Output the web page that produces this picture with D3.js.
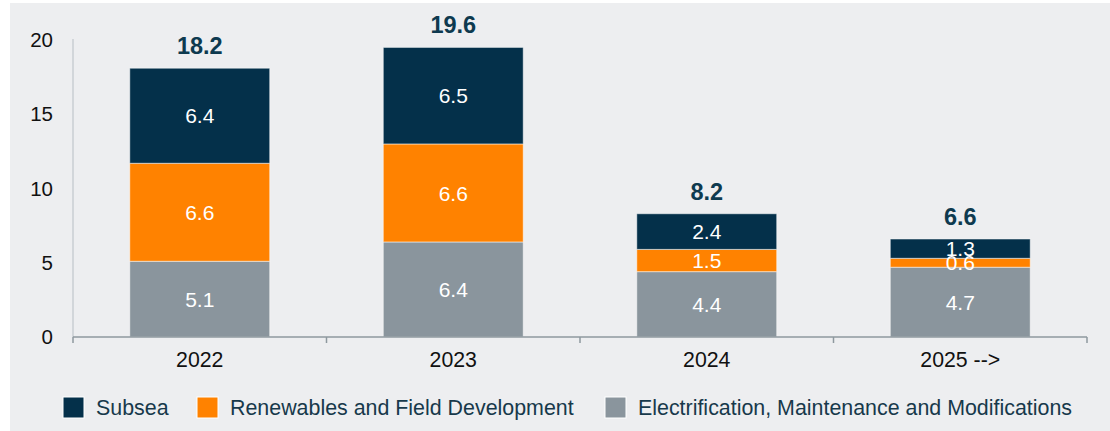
<!DOCTYPE html>
<html>
<head>
<meta charset="utf-8">
<script src="https://cdn.jsdelivr.net/npm/d3@7"></script>
<style>
  body { margin: 0; background: #fff; }
  svg { display: block; font-family: Arial, "Liberation Sans", sans-serif; }
</style>
</head>
<body>
<script>
const width = 1110;
const height = 431;

// data
const categories = ["2022", "2023", "2024", "2025 -->"];
const electrification = [5.1, 6.4, 4.4, 4.7];
const renewables = [6.6, 6.6, 1.5, 0.6];
const subsea = [6.4, 6.5, 2.4, 1.3];
const totals = [18.2, 19.6, 8.2, 6.6];
const yTicks = [0, 5, 10, 15, 20];

const seriesNames = ["Electrification, Maintenance and Modifications", "Renewables and Field Development", "Subsea"];
const seriesKeys = ["elec", "ren", "sub"];
const colors = {elec: "#8A959D", ren: "#FF8200", sub: "#04304A"};

const rows = categories.map((c, i) => ({cat: c, elec: electrification[i], ren: renewables[i], sub: subsea[i], total: totals[i]}));

const svg = d3.select("body").append("svg")
    .attr("width", width)
    .attr("height", height);

// panel background
svg.append("rect")
    .attr("x", 10).attr("y", 3)
    .attr("width", width - 10).attr("height", height - 3)
    .attr("fill", "#EDEEF0");

const x = d3.scaleBand().domain(categories).range([73, 1087]).paddingInner(0.448).paddingOuter(0.224);
const y = d3.scaleLinear().domain([0, 20]).range([337, 40]);

// y axis
const yAxis = svg.append("g")
    .attr("transform", "translate(73,0)")
    .call(d3.axisLeft(y).tickValues(yTicks).tickSize(0).tickPadding(20));
yAxis.select(".domain").attr("stroke", "#C9CED3").attr("stroke-width", 1.5).attr("d", `M0,${y(20) - 1}V${y(0)}`);
yAxis.selectAll("text").attr("font-size", 20.5).attr("fill", "#111").attr("font-family", "Arial, 'Liberation Sans', sans-serif");

const stack = d3.stack().keys(seriesKeys)(rows);

svg.append("g").selectAll("g")
  .data(stack)
  .enter().append("g")
    .attr("fill", d => colors[d.key])
  .selectAll("rect")
  .data(d => d)
  .enter().append("rect")
    .attr("x", d => x(d.data.cat))
    .attr("y", d => y(d[1]))
    .attr("width", x.bandwidth())
    .attr("height", d => y(d[0]) - y(d[1]))
    .attr("stroke", "rgba(255,255,255,0.5)")
    .attr("stroke-width", 1);

// segment labels
svg.append("g").selectAll("g")
  .data(stack)
  .enter().append("g")
  .selectAll("text")
  .data(d => d)
  .enter().append("text")
    .attr("x", d => x(d.data.cat) + x.bandwidth() / 2)
    .attr("y", d => (y(d[0]) + y(d[1])) / 2)
    .attr("dy", "0.36em")
    .attr("text-anchor", "middle")
    .attr("font-size", 21)
    .attr("fill", "#fff")
    .text(d => (d[1] - d[0]).toFixed(1));

// totals
svg.append("g").selectAll("text")
  .data(rows)
  .enter().append("text")
    .attr("x", d => x(d.cat) + x.bandwidth() / 2)
    .attr("y", d => y(d.elec + d.ren + d.sub) - 14)
    .attr("text-anchor", "middle")
    .attr("font-size", 23.5)
    .attr("font-weight", "bold")
    .attr("fill", "#0E3A4F")
    .text(d => d.total.toFixed(1));

// x axis
const xAxis = svg.append("g")
    .attr("transform", `translate(0,${y(0)})`)
    .call(d3.axisBottom(x).tickSize(0).tickPadding(15));
xAxis.select(".domain").remove();
xAxis.selectAll("text").attr("font-size", 21.3).attr("fill", "#111").attr("font-family", "Arial, 'Liberation Sans', sans-serif");

const bounds = d3.range(categories.length + 1).map(i => x.range()[0] + i * x.step());
xAxis.append("line")
    .attr("x1", bounds[0]).attr("x2", bounds[bounds.length - 1])
    .attr("stroke", "#8E989F").attr("stroke-width", 1.5);
xAxis.selectAll(".bound")
  .data(bounds)
  .enter().append("line")
    .attr("class", "bound")
    .attr("x1", d => d).attr("x2", d => d)
    .attr("y1", 0).attr("y2", 6)
    .attr("stroke", "#8E989F").attr("stroke-width", 1.5);

// legend
const legendItems = [
  {key: "sub", name: seriesNames[2], x: 63},
  {key: "ren", name: seriesNames[1], x: 197},
  {key: "elec", name: seriesNames[0], x: 605}
];
const legend = svg.append("g").attr("class", "legend");
const li = legend.selectAll("g").data(legendItems).enter().append("g")
    .attr("transform", d => `translate(${d.x},397)`);
li.append("rect")
    .attr("width", 21).attr("height", 21)
    .attr("fill", d => colors[d.key])
    .attr("stroke", "#fff").attr("stroke-width", 1);
li.append("text")
    .attr("x", 33).attr("y", 18)
    .attr("font-size", 21.4)
    .attr("fill", "#17394B")
    .text(d => d.name);
</script>
</body>
</html>
